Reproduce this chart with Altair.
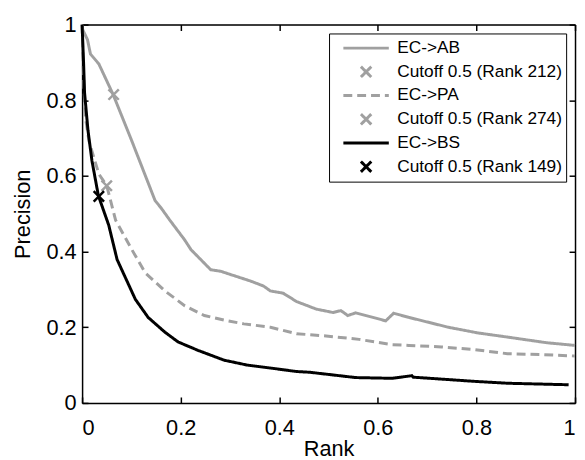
import altair as alt
import pandas as pd

# ---- data ----
ab_rank = [0.0, 0.011, 0.017, 0.034, 0.063, 0.101, 0.148, 0.161, 0.178, 0.208, 0.221, 0.261, 0.281,
           0.342, 0.368, 0.382, 0.408, 0.435, 0.475, 0.509, 0.525, 0.539, 0.555, 0.616, 0.632,
           0.663, 0.743, 0.803, 0.863, 0.943, 1.0]
ab_prec = [0.99, 0.96, 0.922, 0.896, 0.815, 0.692, 0.535, 0.514, 0.483, 0.431, 0.405, 0.352, 0.348,
           0.322, 0.309, 0.296, 0.290, 0.268, 0.248, 0.239, 0.244, 0.231, 0.238, 0.217, 0.237,
           0.226, 0.200, 0.185, 0.174, 0.159, 0.152]

pa_rank = [0.0, 0.002, 0.005, 0.007, 0.014, 0.024, 0.034, 0.050, 0.068, 0.101, 0.128, 0.168, 0.208,
           0.248, 0.288, 0.328, 0.382, 0.435, 0.495, 0.562, 0.629, 0.663, 0.729, 0.796, 0.863,
           0.930, 1.0]
pa_prec = [1.0, 0.90, 0.80, 0.753, 0.692, 0.648, 0.605, 0.574, 0.483, 0.405, 0.344, 0.296, 0.257,
           0.231, 0.219, 0.209, 0.200, 0.183, 0.177, 0.168, 0.154, 0.152, 0.148, 0.141, 0.130,
           0.128, 0.124]

bs_rank = [0.0, 0.003, 0.005, 0.012, 0.020, 0.033, 0.054, 0.071, 0.108, 0.134, 0.168, 0.195, 0.235,
           0.288, 0.335, 0.389, 0.435, 0.462, 0.555, 0.629, 0.669, 0.672, 0.796, 0.863, 0.987]
bs_prec = [1.0, 0.90, 0.82, 0.72, 0.64, 0.548, 0.470, 0.379, 0.274, 0.226, 0.187, 0.161, 0.139,
           0.113, 0.100, 0.091, 0.083, 0.081, 0.067, 0.065, 0.072, 0.068, 0.057, 0.052, 0.048]

series_names = ["EC->AB", "EC->PA", "EC->BS"]
cutoff_names = ["Cutoff 0.5 (Rank 212)", "Cutoff 0.5 (Rank 274)", "Cutoff 0.5 (Rank 149)"]
cutoff_rank = [0.064, 0.050, 0.034]
cutoff_prec = [0.815, 0.574, 0.546]

tick_values = [0, 0.2, 0.4, 0.6, 0.8, 1]

# ---- tables ----
rows = []
for name, xs, ys in zip(series_names, [ab_rank, pa_rank, bs_rank], [ab_prec, pa_prec, bs_prec]):
    for i, (x, y) in enumerate(zip(xs, ys)):
        rows.append({"label": name, "rank": x, "precision": y, "order": i})
lines_df = pd.DataFrame(rows)
marks_df = pd.DataFrame({"label": cutoff_names, "rank": cutoff_rank, "precision": cutoff_prec})

legend_order = [series_names[0], cutoff_names[0], series_names[1], cutoff_names[1],
                series_names[2], cutoff_names[2]]
GRAY = "#a0a0a0"
XPATH = "M-1,-1L1,1M-1,1L1,-1"

color_scale = alt.Scale(domain=legend_order, range=[GRAY, GRAY, GRAY, GRAY, "black", "black"])
dash_scale = alt.Scale(domain=legend_order, range=[[1, 0], [1, 0], [9, 5], [1, 0], [1, 0], [1, 0]])
shape_scale = alt.Scale(domain=legend_order, range=["stroke", XPATH, "stroke", XPATH, "stroke", XPATH])
size_scale = alt.Scale(type="ordinal", domain=legend_order,
                       range=[2116, 110, 2116, 110, 2116, 110])

FONT = "Liberation Sans"
legend = alt.Legend(orient="none", legendX=250, legendY=9, title=None,
                    labelFontSize=17.5, labelFont=FONT, labelColor="black", labelLimit=0,
                    strokeColor="black", fillColor="white", padding=4,
                    clipHeight=21.7, rowPadding=2,
                    symbolStrokeWidth=3, symbolOffset=9, labelOffset=7)

xscale = alt.Scale(domain=[0, 1], nice=False)
yscale = alt.Scale(domain=[0, 1], nice=False)

axis_common = dict(values=tick_values, format="~g", grid=False, domainColor="black",
                   domainWidth=1.5, tickColor="black", tickWidth=1.5,
                   tickSize={"expr": "-6"}, labelFont=FONT, labelFontSize=22,
                   labelColor="black", titleFont=FONT, titleFontSize=22,
                   titleFontWeight="normal", titleColor="black")

lines = alt.Chart(lines_df).mark_line(strokeWidth=3).encode(
    x=alt.X("rank:Q", scale=xscale,
            axis=alt.Axis(title="Rank", labelPadding=21, titlePadding=0, **axis_common)),
    y=alt.Y("precision:Q", scale=yscale,
            axis=alt.Axis(title="Precision", labelPadding=12, titlePadding=12, **axis_common)),
    color=alt.Color("label:N", scale=color_scale, legend=legend),
    strokeDash=alt.StrokeDash("label:N", scale=dash_scale, legend=legend),
    order="order:Q",
    detail="label:N",
)

points = alt.Chart(marks_df).mark_point(filled=False, strokeWidth=2.5, opacity=1).encode(
    x=alt.X("rank:Q", scale=xscale,
            axis=alt.Axis(orient="top", labels=False, title=None, **axis_common)),
    y=alt.Y("precision:Q", scale=yscale,
            axis=alt.Axis(orient="right", labels=False, title=None, **axis_common)),
    color=alt.Color("label:N", scale=color_scale, legend=legend),
    shape=alt.Shape("label:N", scale=shape_scale, legend=legend),
    size=alt.Size("label:N", scale=size_scale, legend=legend),
)

chart = alt.layer(lines, points).resolve_axis(x="independent", y="independent").properties(
    width=499, height=383,
    autosize=alt.AutoSizeParams(type="none"),
    padding={"left": 75, "top": 14, "right": 2, "bottom": 55},
).configure_view(stroke="black", strokeWidth=1.5).configure(background="white")

chart.save("out.html", embed_options={"renderer": "svg", "actions": False})
